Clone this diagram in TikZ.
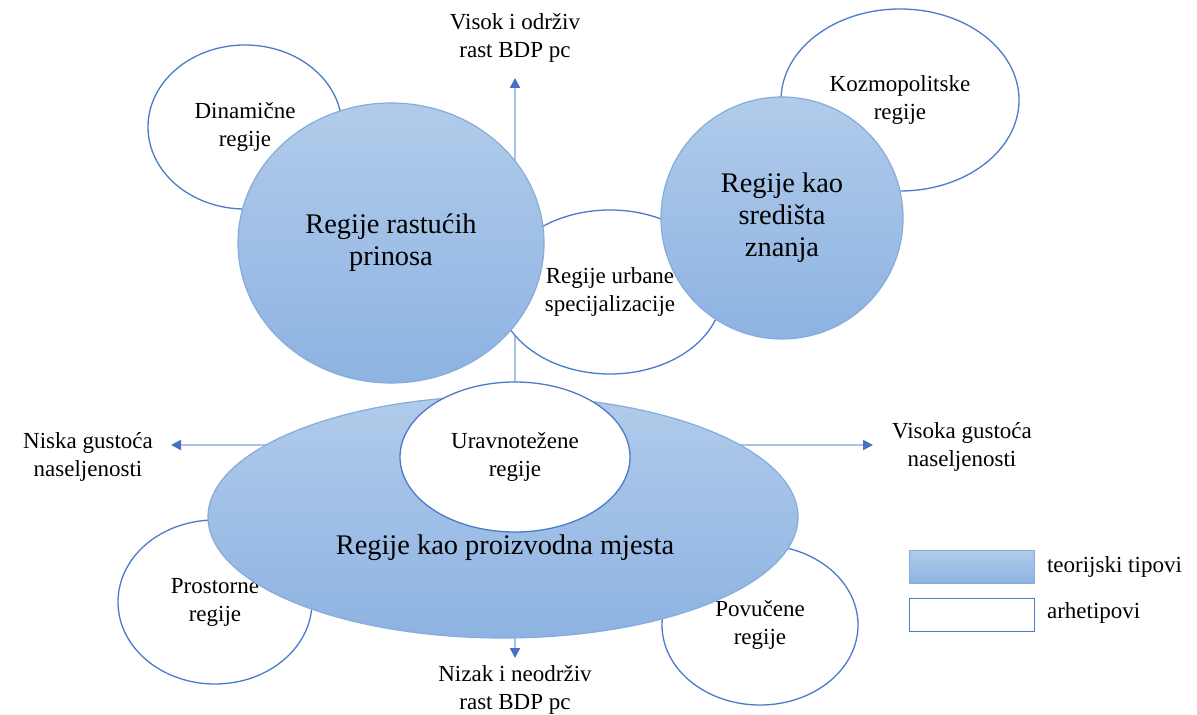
\documentclass[tikz,border=0pt]{standalone}
\usepackage{fontspec}
\setmainfont{Liberation Serif}
\usetikzlibrary{shapes.geometric, arrows.meta}

\newlength{\px}
\setlength{\px}{0.5pt}

\definecolor{typeTop}{HTML}{B1CBEA}
\definecolor{typeBot}{HTML}{8DB3E2}
\definecolor{typeLine}{HTML}{86ACDD}
\definecolor{archLine}{HTML}{4A7BCB}
\definecolor{axisLine}{HTML}{A9C3EA}
\definecolor{axisTip}{HTML}{4472C4}

\tikzset{
  theory/.style={ellipse, draw=typeLine, line width=0.6pt, top color=typeTop, bottom color=typeBot,
    inner sep=0pt, align=center, font=\fontsize{14.2}{16}\selectfont},
  archetype/.style={ellipse, draw=archLine, line width=0.65pt, fill=white,
    inner sep=0pt, align=center, font=\fontsize{11.5}{14}\selectfont},
  axisarrow/.style={draw=axisLine, line width=1pt,
    {Triangle[color=axisTip, length=5pt, width=5pt]}-{Triangle[color=axisTip, length=5pt, width=5pt]}},
  axislabel/.style={align=center, font=\fontsize{11.5}{14}\selectfont}
}

\begin{document}
\begin{tikzpicture}[x=\px, y=-\px]
		\useasboundingbox (0,0) rectangle (1197,715);
		% axes
		\coordinate (axTop) at (515,78);
		\coordinate (axBot) at (515,658);
		\coordinate (axLeft) at (171,445);
		\coordinate (axRight) at (873,445);
		\draw[axisarrow] (axBot) -- (axTop);
		\draw[axisarrow] (axLeft) -- (axRight);
		% axis labels
		\node[axislabel] (highGrowth) at (515,38) {Visok i održiv\\rast BDP pc};
		\node[axislabel] (lowGrowth) at (515,690) {Nizak i neodrživ\\rast BDP pc};
		\node[axislabel] (lowDensity) at (88,457) {Niska gustoća\\naseljenosti};
		\node[axislabel] (highDensity) at (962,447) {Visoka gustoća\\naseljenosti};
		% archetypes behind the theoretical types
		\node[archetype, minimum width=194\px, minimum height=164\px] (dinamicne) at (245,127) {Dinamične\\regije};
		\node[archetype, minimum width=238\px, minimum height=182\px] (kozmo) at (900,100) {Kozmopolitske\\regije};
		\node[archetype, minimum width=224\px, minimum height=164\px] (urbane) at (610,292) {Regije urbane\\specijalizacije};
		\node[archetype, minimum width=194\px, minimum height=164\px] (prostorne) at (215,602) {Prostorne\\regije};
		\node[archetype, minimum width=196\px, minimum height=160\px] (povucene) at (760,625) {Povučene\\regije};
		% theoretical types
		\node[theory, minimum width=306\px, minimum height=280\px] (rastucih) at (391,243) {Regije rastućih\\prinosa};
		\node[theory, minimum width=242\px, minimum height=242\px] (znanje) at (782,218) {Regije kao\\središta\\znanja};
		\node[theory, minimum width=590\px, minimum height=242\px] (proizvodna) at (503,517) {};
		\node[font=\fontsize{14.2}{16}\selectfont] (proizvodnaTxt) at (505,548) {Regije kao proizvodna mjesta};
		% archetype on top of the production ellipse
		\node[archetype, minimum width=230\px, minimum height=150\px] (uravnotezene) at (515,457) {Uravnotežene\\regije};
		% legend
		\node[draw=typeLine, line width=0.6pt, top color=typeTop, bottom color=typeBot,
		  minimum width=125\px, minimum height=33\px, inner sep=0pt] (legTheory) at (972,567) {};
		\node[draw=archLine, line width=0.6pt, fill=white,
		  minimum width=125\px, minimum height=33\px, inner sep=0pt] (legArch) at (972,615) {};
		\node[axislabel, anchor=west] (legTheoryTxt) at (1040,567) {teorijski tipovi};
		\node[axislabel, anchor=west] (legArchTxt) at (1040,613) {arhetipovi};
	\end{tikzpicture}
\end{document}
